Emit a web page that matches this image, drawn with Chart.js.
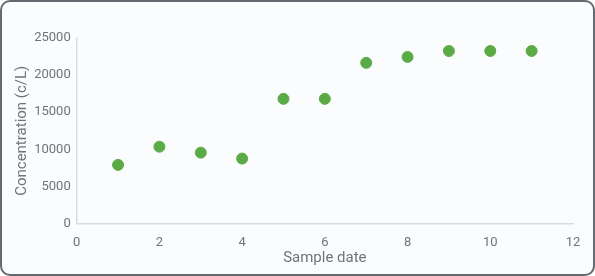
<!DOCTYPE html>
<html>
<head>
<meta charset="utf-8">
<script src="https://cdn.jsdelivr.net/npm/chart.js@4"></script>
<style>
  html, body { margin: 0; padding: 0; background: #fff; }
  #box {
    position: relative; width: 595px; height: 276px; box-sizing: border-box;
    border: 2px solid #646a70; border-radius: 10px; background: #fbfcfd; overflow: hidden;
  }
  #chart { position: absolute; left: -2px; top: -2px; }
</style>
</head>
<body>
<div id="box"><canvas id="chart" width="595" height="276"></canvas></div>
<script>
const sampleDates = [1, 2, 3, 4, 5, 6, 7, 8, 9, 10, 11];
const concentrations = [7900, 10350, 9550, 8750, 16800, 16800, 21650, 22450, 23250, 23250, 23250];
const xTitle = 'Sample date';
const yTitle = 'Concentration (c/L)';

const textColor = '#707478';
const font = { family: 'Roboto', size: 13 };
const titleFont = { family: 'Roboto', size: 15 };

new Chart(document.getElementById('chart'), {
    type: 'scatter',
    data: {
        datasets: [{
            data: sampleDates.map((x, i) => ({ x: x, y: concentrations[i] })),
            backgroundColor: '#5aab46',
            borderColor: '#5aab46',
            pointRadius: 5.5,
            pointHoverRadius: 5.5
        }]
    },
    options: {
        responsive: false,
        animation: false,
        layout: { padding: { left: 0, right: 22, top: 38, bottom: 0 } },
        plugins: { legend: { display: false }, tooltip: { enabled: false } },
        scales: {
            x: {
                min: 0, max: 12,
                ticks: { stepSize: 2, color: textColor, font: font, padding: 11 },
                grid: { display: false, drawTicks: false },
                border: { color: '#d9dbdd', width: 1.5 },
                title: { display: true, text: xTitle, color: textColor, font: titleFont, padding: { top: 0, bottom: 9 } },
                afterFit: s => { s.height = 52.5; }
            },
            y: {
                min: 0, max: 25000,
                ticks: { stepSize: 5000, color: textColor, font: font, padding: 6, callback: v => String(v) },
                grid: { display: false, drawTicks: false },
                border: { color: '#d9dbdd', width: 1.5 },
                title: { display: true, text: yTitle, color: textColor, font: titleFont, padding: { top: 13, bottom: 0 } },
                afterFit: s => { s.width = 76.7; }
            }
        }
    }
});
</script>
</body>
</html>
